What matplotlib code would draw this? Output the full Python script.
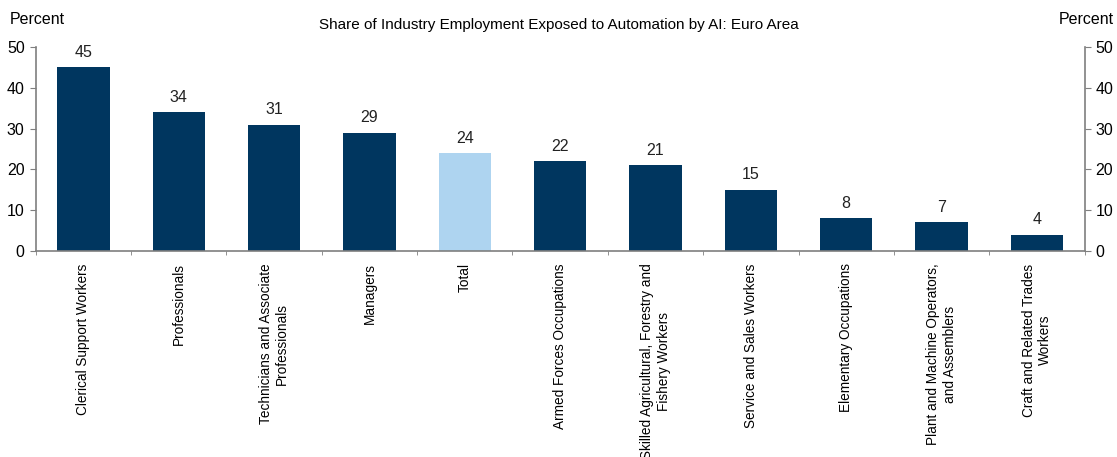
import numpy as np
import matplotlib.pyplot as plt

plt.rcParams['font.family'] = ['Liberation Sans', 'DejaVu Sans']

# Share of employment exposed to AI automation, by occupation group
occupations = [
    'Clerical Support Workers',
    'Professionals',
    'Technicians and Associate\nProfessionals',
    'Managers',
    'Total',
    'Armed Forces Occupations',
    'Skilled Agricultural, Forestry and\nFishery Workers',
    'Service and Sales Workers',
    'Elementary Occupations',
    'Plant and Machine Operators,\nand Assemblers',
    'Craft and Related Trades\nWorkers',
]
exposure = [45, 34, 31, 29, 24, 22, 21, 15, 8, 7, 4]

navy = '#00365f'
light = '#aed4f0'
grey = '#7f7f7f'
colors = [light if o == 'Total' else navy for o in occupations]

fig = plt.figure(figsize=(11.17, 4.57), dpi=100)
ax = fig.add_axes([0.032, 0.451, 0.939, 0.446])

x = np.arange(len(occupations))
ax.bar(x, exposure, width=0.55, color=colors)
for xi, v in zip(x, exposure):
    ax.text(xi, v + 1.8, f'{v}', ha='center', va='bottom', fontsize=11.5, color='#222222')

ax.set_xlim(-0.5, len(occupations) - 0.5)
ax.set_ylim(0, 50)
ax.set_yticks(range(0, 51, 10))

# category labels without ticks; tick marks at the slot boundaries
ax.set_xticks(x)
ax.set_xticklabels(occupations, rotation=90, fontsize=9.8, ha='center', va='top',
                   multialignment='center')
ax.tick_params(axis='x', length=0, pad=9)
ax.set_xticks(np.arange(-0.5, len(occupations)), minor=True)
ax.tick_params(axis='x', which='minor', length=3, color=grey, direction='out')

for side in ['top', 'right']:
    ax.spines[side].set_visible(False)
for side in ['left', 'bottom']:
    ax.spines[side].set_color(grey)
    ax.spines[side].set_linewidth(1.2)
ax.tick_params(axis='y', labelsize=11.5, length=4, color=grey, pad=4)

ax2 = ax.twinx()
ax2.set_ylim(0, 50)
ax2.set_yticks(range(0, 51, 10))
for side in ['top', 'left', 'bottom']:
    ax2.spines[side].set_visible(False)
ax2.spines['right'].set_color(grey)
ax2.spines['right'].set_linewidth(1.2)
ax2.tick_params(axis='y', labelsize=11.5, length=4, color=grey, pad=4)

fig.text(0.009, 0.958, 'Percent', fontsize=11.5, ha='left', va='center')
fig.text(0.997, 0.958, 'Percent', fontsize=11.5, ha='right', va='center')
fig.text(0.5, 0.945, 'Share of Industry Employment Exposed to Automation by AI: Euro Area',
         fontsize=11, ha='center', va='center')

fig.savefig('out.png', dpi=100)
